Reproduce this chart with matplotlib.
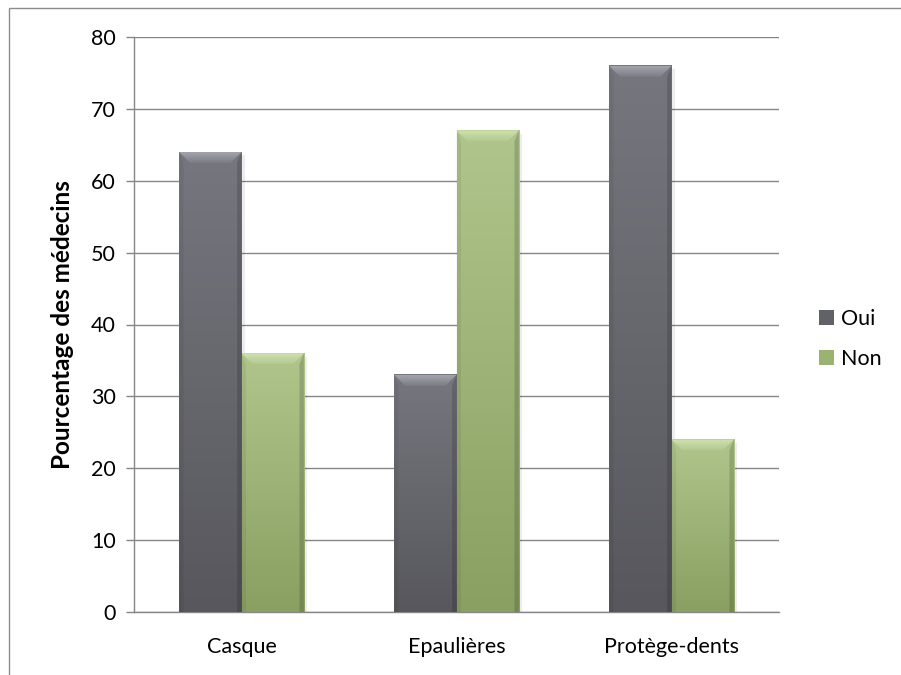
import matplotlib.pyplot as plt
import numpy as np
from matplotlib.patches import Polygon, Rectangle, Patch
from matplotlib.colors import LinearSegmentedColormap

categories = ['Casque', 'Epaulières', 'Protège-dents']
oui = [64, 33, 76]
non = [36, 67, 24]
series_names = ['Oui', 'Non']
yticks = [0, 10, 20, 30, 40, 50, 60, 70, 80]

plt.rcParams['font.family'] = ['Lato', 'DejaVu Sans']

W, H = 901, 675
fig = plt.figure(figsize=(W / 100, H / 100), dpi=100)
ax = fig.add_axes([134 / W, 1 - 612 / H, (779 - 134) / W, (612 - 37) / H])

# body gradient (top, bottom), bevel colours, legend colour
styles = [
    {'top': '#76767e', 'bottom': '#57575d', 'bevel': ['#a4a4ac', '#7c7c84'], 'key': '#616168'},
    {'top': '#afc58b', 'bottom': '#8aa062', 'bevel': ['#cfe0b0', '#b4ca92'], 'key': '#9bb372'},
]

x = np.arange(len(categories))
width = 0.29
dx = 11 / 215          # bevel size, one category = 215 px
dy = 11 * 80 / 575     # bevel size, 80 units = 575 px
grad = np.linspace(0, 1, 100).reshape(-1, 1)

for s, (vals, st) in enumerate(zip([oui, non], styles)):
    offset = -width / 2 if s == 0 else width / 2
    cmap = LinearSegmentedColormap.from_list('c%d' % s, [st['top'], st['bottom']])
    bcmap = LinearSegmentedColormap.from_list('b%d' % s, st['bevel'])
    for xi, h in zip(x + offset, vals):
        x0, x1 = xi - width / 2, xi + width / 2
        # soft shadow on the right
        ax.add_patch(Rectangle((x1, 0), 0.014, h - dy * 0.3, color='#000000',
                               alpha=0.07, lw=0, zorder=2))
        ax.imshow(grad, extent=[x0, x1, 0, h], aspect='auto', cmap=cmap,
                  zorder=3, interpolation='bilinear')
        # bevel: light top, darker sides
        top = Polygon([(x0, h), (x1, h), (x1 - dx, h - dy), (x0 + dx, h - dy)],
                      closed=True, facecolor='none', lw=0)
        ax.add_patch(top)
        im = ax.imshow(grad, extent=[x0, x1, h - dy, h], aspect='auto', cmap=bcmap,
                       zorder=4, interpolation='bilinear')
        im.set_clip_path(top)
        ax.add_patch(Polygon([(x0, h), (x0 + dx * 0.4, h - dy), (x0 + dx * 0.4, 0), (x0, 0)],
                             closed=True, color='#000000', alpha=0.06, lw=0, zorder=4))
        ax.add_patch(Polygon([(x1, h), (x1 - dx * 0.4, h - dy), (x1 - dx * 0.4, 0), (x1, 0)],
                             closed=True, color='#000000', alpha=0.15, lw=0, zorder=4))

ax.set_xlim(-0.5, len(categories) - 0.5)
ax.set_ylim(0, 80)
ax.set_yticks(yticks)
ax.set_xticks(x)
ax.set_xticklabels(categories)
ax.yaxis.grid(True, color='#868686', lw=1)
ax.set_axisbelow(True)

for side in ['top', 'right']:
    ax.spines[side].set_visible(False)
for side in ['left', 'bottom']:
    ax.spines[side].set_color('#868686')
    ax.spines[side].set_linewidth(1)
ax.tick_params(axis='y', length=6, width=1, color='#868686', pad=7, labelsize=15.5)
ax.tick_params(axis='x', length=0, pad=18, labelsize=15.5)

ax.set_ylabel('Pourcentage des médecins', fontsize=17.5, fontweight='bold')
ax.yaxis.set_label_coords((74 - 134) / 645, 0.5)

handles = [Patch(facecolor=st['key'], edgecolor='none') for st in styles]
fig.legend(handles, series_names, loc='center left', bbox_to_anchor=(800 / W, 1 - 339 / H),
           frameon=False, fontsize=15.5, handlelength=0.7, handleheight=0.7,
           handletextpad=0.3, labelspacing=0.9)

# chart outline
fig.patches.append(Rectangle((9 / W, -0.5), 2, 1.5 - 8 / H, transform=fig.transFigure,
                             fill=False, edgecolor='#8c8c8c', lw=1))

fig.savefig('out.png', dpi=100)
